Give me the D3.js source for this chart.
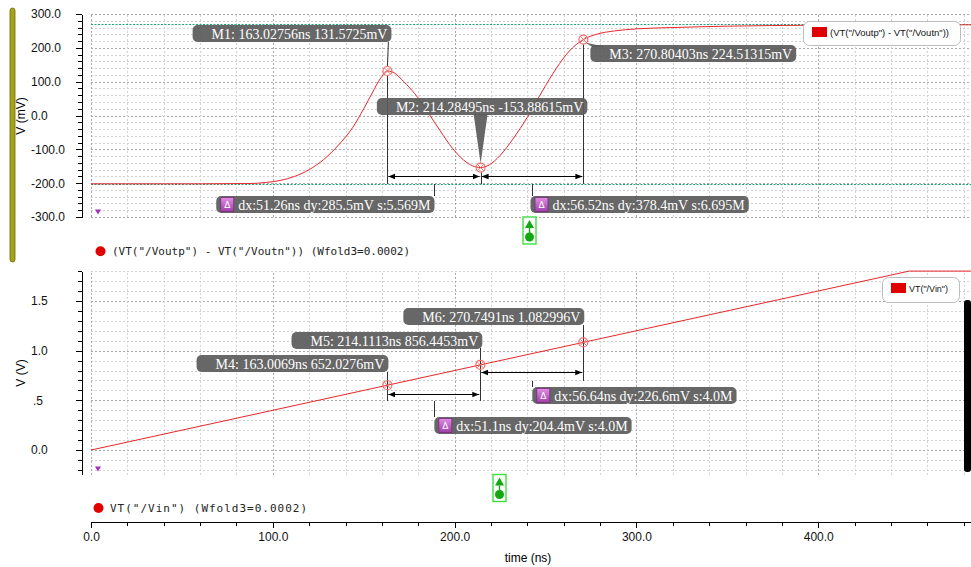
<!DOCTYPE html>
<meta charset="utf-8">
<style>
	body { margin: 0; background: #fff; overflow: hidden; }
	svg { display: block; }
	.axis path, .axis line { stroke: #000; shape-rendering: crispEdges; }
	.axis text { font-family: "Liberation Sans", Arial, sans-serif; font-size: 12px; fill: #111; }
	.mk text { font-family: "Liberation Serif", serif; font-size: 14px; fill: #fff; }
	.mono { font-family: "DejaVu Sans Mono", monospace; font-size: 11px; fill: #222; }
	.lg { font-family: "Liberation Sans", Arial, sans-serif; font-size: 9px; fill: #111; }
</style>
<body>
<svg id="svg"></svg>
<script src="https://cdn.jsdelivr.net/npm/d3@7/dist/d3.min.js"></script>
<script>

// DATA
// top panel : VT("/Voutp") - VT("/Voutn"), time in ns, value in mV
var diffTime = [0, 60, 88, 96, 104, 112, 120, 128, 136, 144, 150, 155, 159, 163.02756, 167, 172, 178, 185, 192, 199, 205, 210, 214.28495, 219, 225, 232, 240, 248, 256, 263, 270.80403, 278, 288, 300, 320, 350, 400, 450, 484]
var diffMv   = [-202, -202, -201, -198, -192, -180, -160, -130, -88, -35, 20, 70, 108, 131.5725, 125, 100, 65, 12, -45, -98, -132, -149, -153.88615, -146, -118, -70, -5, 70, 140, 190, 224.51315, 240, 250, 256, 260, 264, 267, 268, 268]

// bottom panel : VT("/Vin"), time in ns, value in V
var vinTime = [0, 163.0069, 214.1113, 270.7491, 450, 484]
var vinV    = [0, 0.6520276, 0.8564453, 1.082996, 1.8, 1.8]

// horizontal reference lines in top panel (mV)
var refLinesMv = [270, -202]

// ticks
var topTicks = [-300, -200, -100, 0, 100, 200, 300]
var topTickLabels = ['-300.0', '-200.0', '-100.0', '0.0', '100.0', '200.0', '300.0']
var botTicks = [0, 0.5, 1.0, 1.5]
var botTickLabels = ['0.0', '.5', '1.0', '1.5']
var timeTicks = [0, 100, 200, 300, 400]
var timeTickLabels = ['0.0', '100.0', '200.0', '300.0', '400.0']

// markers
var topMarkerT = [163.02756, 214.28495, 270.80403]
var topMarkerV = [131.5725, -153.88615, 224.51315]
var topMarkerText = ['M1: 163.02756ns 131.5725mV', 'M2: 214.28495ns -153.88615mV', 'M3: 270.80403ns 224.51315mV']
var topDeltaText = ['dx:51.26ns dy:285.5mV s:5.569M', 'dx:56.52ns dy:378.4mV s:6.695M']

var botMarkerT = [163.0069, 214.1113, 270.7491]
var botMarkerV = [0.6520276, 0.8564453, 1.082996]
var botMarkerText = ['M4: 163.0069ns 652.0276mV', 'M5: 214.1113ns 856.4453mV', 'M6: 270.7491ns 1.082996V']
var botDeltaText = ['dx:51.1ns dy:204.4mV s:4.0M', 'dx:56.64ns dy:226.6mV s:4.0M']

var topLegend = '(VT("/Voutp") - VT("/Voutn"))'
var botLegend = 'VT("/Vin")'
var topTrace = '(VT("/Voutp") - VT("/Voutn")) (Wfold3=0.0002)'
var botTrace = 'VT("/Vin") (Wfold3=0.0002)'

// CANVAS
var width = 971
var height = 567
var svg = d3.select('#svg').attr('width', width).attr('height', height)

var defs = svg.append('defs')
defs.append('clipPath').attr('id', 'clipTop').append('rect')
	.attr('x', 91).attr('y', 12).attr('width', 880).attr('height', 207)
defs.append('clipPath').attr('id', 'clipBot').append('rect')
	.attr('x', 91).attr('y', 269).attr('width', 880).attr('height', 208)
defs.append('marker').attr('id', 'arr')
	.attr('viewBox', '0 0 10 10').attr('refX', 10).attr('refY', 5)
	.attr('markerWidth', 7).attr('markerHeight', 7).attr('markerUnits', 'userSpaceOnUse')
	.attr('orient', 'auto-start-reverse')
	.append('path').attr('d', 'M0,1L10,5L0,9Z').attr('fill', '#000')
var grad = defs.append('linearGradient').attr('id', 'purp')
	.attr('x1', 0).attr('y1', 0).attr('x2', 0).attr('y2', 1)
grad.append('stop').attr('offset', 0).attr('stop-color', '#e08ee6')
grad.append('stop').attr('offset', 1).attr('stop-color', '#a040a8')

// SCALES
var x = d3.scaleLinear().domain([0, 484]).range([91, 971])
var yTop = d3.scaleLinear().domain([-300, 300]).range([217, 14])
var yBot = d3.scaleLinear().domain([-0.25, 1.8]).range([474.9, 271.1])

var px = v => Math.round(v) + 0.5

// GRID
function grid(y, vals, isMajor) {
	var g = svg.append('g')
	var y0 = y.range()[0], y1 = y.range()[1]
	g.selectAll('.h').data(vals).enter().append('line')
		.attr('x1', 91).attr('x2', 971)
		.attr('y1', d => px(y(d))).attr('y2', d => px(y(d)))
		.attr('stroke', d => isMajor(d) ? '#a8a8a8' : '#d2d2d2')
		.attr('stroke-dasharray', '2,2')
	g.selectAll('.v').data(d3.range(0, 481, 20)).enter().append('line')
		.attr('y1', y0).attr('y2', y1)
		.attr('x1', d => px(x(d))).attr('x2', d => px(x(d)))
		.attr('stroke', d => d % 100 == 0 ? '#a8a8a8' : '#d2d2d2')
		.attr('stroke-dasharray', '2,2')
}
grid(yTop, d3.range(-300, 301, 20), d => d % 100 == 0)
grid(yBot, d3.range(-2, 19).map(d => d / 10), d => Math.round(d * 10) % 5 == 0)

// reference lines
svg.append('g').selectAll('line').data(refLinesMv).enter().append('line')
	.attr('x1', 91).attr('x2', 971)
	.attr('y1', d => px(yTop(d))).attr('y2', d => px(yTop(d)))
	.attr('stroke', '#1aa57a').attr('stroke-dasharray', '2,1.5')

// AXES
function yAxis(y, minor, ticks, labels) {
	svg.append('g').attr('class', 'axis').attr('transform', 'translate(82,0)')
		.call(d3.axisLeft(y).tickValues(minor).tickSize(4).tickSizeOuter(0).tickFormat(''))
	var g = svg.append('g').attr('class', 'axis').attr('transform', 'translate(82,0)')
		.call(d3.axisLeft(y).tickValues(ticks).tickSize(6).tickSizeOuter(0)
			.tickFormat((d, i) => labels[i]))
	g.select('.domain').remove()
	g.selectAll('text').attr('x', (d, i) => labels[i] == '.5' ? -49 : -51)
		.style('text-anchor', 'start')
}
yAxis(yTop, d3.range(-300, 301, 20), topTicks, topTickLabels)
yAxis(yBot, d3.range(-2, 19).map(d => d / 10), botTicks, botTickLabels)

var gx = svg.append('g').attr('class', 'axis').attr('transform', 'translate(0,522)')
gx.call(d3.axisBottom(x).tickValues(d3.range(0, 481, 20)).tickSize(4).tickSizeOuter(0).tickFormat(''))
var gx2 = svg.append('g').attr('class', 'axis').attr('transform', 'translate(0,522)')
	.call(d3.axisBottom(x).tickValues(timeTicks).tickSize(6).tickSizeOuter(0)
		.tickFormat((d, i) => timeTickLabels[i]))
gx2.select('.domain').remove()
gx2.selectAll('text').attr('y', 10)

svg.append('text').attr('x', 528).attr('y', 562)
	.attr('text-anchor', 'middle').style('font-family', '"Liberation Sans", Arial, sans-serif')
	.style('font-size', '12px').text('time (ns)')
svg.append('text').attr('transform', 'translate(25,116) rotate(-90)')
	.attr('text-anchor', 'middle').style('font-family', '"Liberation Sans", Arial, sans-serif')
	.style('font-size', '12px').text('V (mV)')
svg.append('text').attr('transform', 'translate(25,373) rotate(-90)')
	.attr('text-anchor', 'middle').style('font-family', '"Liberation Sans", Arial, sans-serif')
	.style('font-size', '12px').text('V (V)')

// TRACES
var topData = diffTime.map((t, i) => [t, diffMv[i]])
var botData = vinTime.map((t, i) => [t, vinV[i]])

svg.append('path').attr('clip-path', 'url(#clipTop)')
	.datum(topData)
	.attr('d', d3.line().x(d => x(d[0])).y(d => yTop(d[1])).curve(d3.curveMonotoneX))
	.attr('fill', 'none').attr('stroke', '#e8262a').attr('stroke-width', 1)
svg.append('path').attr('clip-path', 'url(#clipBot)')
	.datum(botData)
	.attr('d', d3.line().x(d => x(d[0])).y(d => yBot(d[1])))
	.attr('fill', 'none').attr('stroke', '#e8262a').attr('stroke-width', 1)

// small purple markers at lower-left of each panel
svg.append('path').attr('d', 'M95,209.5L101,209.5L98,214.5Z').attr('fill', '#a030c0')
svg.append('path').attr('d', 'M95,466.5L101,466.5L98,471.5Z').attr('fill', '#a030c0')

// ANNOTATIONS
var boxFill = '#5a5a5a'
var ann = svg.append('g').attr('class', 'mk')

function vline(xp, y1, y2) {
	ann.append('line').attr('x1', px(xp)).attr('x2', px(xp)).attr('y1', y1).attr('y2', y2)
		.attr('stroke', '#333').attr('stroke-width', 1)
}
function arrow(x1, x2, y) {
	ann.append('line').attr('x1', x1 + 1).attr('x2', x2 - 1).attr('y1', px(y)).attr('y2', px(y))
		.attr('stroke', '#000').attr('stroke-width', 1.2)
		.attr('marker-start', 'url(#arr)').attr('marker-end', 'url(#arr)')
}
function ring(xp, yp) {
	ann.append('circle').attr('cx', xp).attr('cy', yp).attr('r', 4.5)
		.attr('fill', 'none').attr('stroke', '#f26a6a').attr('stroke-width', 1.2)
	var d = 3
	ann.append('path')
		.attr('d', `M${xp - d},${yp - d}L${xp + d},${yp + d}M${xp + d},${yp - d}L${xp - d},${yp + d}`)
		.attr('stroke', '#f26a6a').attr('stroke-width', 1)
}
function labelBox(txt, ax, top, align) {
	var r = ann.append('rect')
	var t = ann.append('text').text(txt)
	var w = t.node().getComputedTextLength()
	var bw = w + 23
	var left = align == 'end' ? ax - bw : align == 'start' ? ax : ax - bw / 2
	r.attr('x', left).attr('y', top).attr('width', bw).attr('height', 17).attr('rx', 5)
		.attr('fill', boxFill).attr('fill-opacity', 0.92)
	t.attr('x', left + 19).attr('y', top + 13.5)
}
function deltaBox(txt, ax, top, align) {
	var r = ann.append('rect')
	var ic = ann.append('rect')
	var dl = ann.append('text').text('Δ')
	var t = ann.append('text').text(txt)
	var w = t.node().getComputedTextLength()
	var bw = w + 26
	var left = align == 'end' ? ax - bw : ax
	r.attr('x', left).attr('y', top).attr('width', bw).attr('height', 17).attr('rx', 5)
		.attr('fill', boxFill).attr('fill-opacity', 0.92)
	ic.attr('x', left + 4.5).attr('y', top + 1.5).attr('width', 13).attr('height', 14)
		.attr('fill', 'url(#purp)').attr('stroke', '#7a2a80').attr('stroke-width', 0.8)
	dl.attr('x', left + 11).attr('y', top + 12).attr('text-anchor', 'middle')
		.style('font-family', '"DejaVu Sans", sans-serif').style('font-size', '9px')
	t.attr('x', left + 22).attr('y', top + 13.5)
}

// top panel markers
var tx = topMarkerT.map(d => x(d))
var ty = topMarkerV.map(d => yTop(d))
vline(tx[0], ty[0] + 5, 184)
vline(tx[1], ty[1] + 5, 184)
vline(tx[2], ty[2] + 5, 184)
ann.append('line').attr('x1', tx[0] + 1).attr('y1', 42).attr('x2', tx[0]).attr('y2', ty[0] - 5)
	.attr('stroke', '#333')
ann.append('path')
	.attr('d', `M${tx[1] - 7},114L${tx[1] + 7},114L${tx[1]},${ty[1] - 4}Z`)
	.attr('fill', boxFill).attr('fill-opacity', 0.92)
ann.append('path')
	.attr('d', `M${tx[2] + 2},${ty[2] + 3}L${tx[2] + 9},47L${tx[2] + 22},47Z`)
	.attr('fill', boxFill).attr('fill-opacity', 0.92)
labelBox(topMarkerText[0], tx[0] + 4, 25, 'end')
labelBox(topMarkerText[1], tx[1] + 1.5, 98, 'middle')
labelBox(topMarkerText[2], tx[2] + 7, 45, 'start')
arrow(tx[0], tx[1], 176)
arrow(tx[1], tx[2], 176)
var tm1 = (tx[0] + tx[1]) / 2, tm2 = (tx[1] + tx[2]) / 2
vline(tm1, 184, 196)
vline(tm2, 184, 196)
deltaBox(topDeltaText[0], tm1 + 0.5, 196, 'end')
deltaBox(topDeltaText[1], tm2 - 1.5, 196, 'start')
topMarkerT.forEach((d, i) => ring(tx[i], ty[i]))

// bottom panel markers
var bx = botMarkerT.map(d => x(d))
var by = botMarkerV.map(d => yBot(d))
vline(bx[0], 372, 401)
vline(bx[1], 348, 401)
vline(bx[2], 325, 381)
labelBox(botMarkerText[0], bx[0] + 1, 355, 'end')
labelBox(botMarkerText[1], bx[1] + 2, 332, 'end')
labelBox(botMarkerText[2], bx[2] + 1, 308, 'end')
arrow(bx[0], bx[1], 394)
arrow(bx[1], bx[2], 372)
var bm1 = (bx[0] + bx[1]) / 2, bm2 = (bx[1] + bx[2]) / 2
vline(bm1, 401, 417)
vline(bm2, 381, 387)
deltaBox(botDeltaText[0], bm1 + 0.5, 417, 'start')
deltaBox(botDeltaText[1], bm2 + 0.5, 387, 'start')
botMarkerT.forEach((d, i) => ring(bx[i], by[i]))

// LEGEND BOXES
function legend(x0, y0, w, h, txt, tw) {
	var g = svg.append('g')
	g.append('rect').attr('x', x0 + 0.5).attr('y', y0 + 0.5).attr('width', w).attr('height', h).attr('rx', 6)
		.attr('fill', '#fff').attr('stroke', '#bdbdbd')
	g.append('rect').attr('x', x0 + 9).attr('y', y0 + 6).attr('width', 15).attr('height', 10)
		.attr('fill', '#e00000')
	g.append('text').attr('class', 'lg').attr('x', x0 + 27).attr('y', y0 + 15)
		.attr('textLength', tw).attr('lengthAdjust', 'spacingAndGlyphs').text(txt)
}
legend(803, 21, 157, 24, topLegend, 119)
legend(882, 277, 77, 25, botLegend, 39)

// trace names
svg.append('circle').attr('cx', 100.5).attr('cy', 251.3).attr('r', 5).attr('fill', '#e00000')
svg.append('text').attr('class', 'mono').attr('x', 112).attr('y', 255).text(topTrace)
svg.append('circle').attr('cx', 98.5).attr('cy', 508).attr('r', 5).attr('fill', '#e00000')
svg.append('text').attr('class', 'mono').attr('x', 110).attr('y', 512)
	.attr('textLength', 197).attr('lengthAdjust', 'spacing').text(botTrace)

// green stack icons
function greenIcon(cx, y0) {
	var g = svg.append('g')
	g.append('rect').attr('x', cx - 6.5).attr('y', y0).attr('width', 13).attr('height', 27)
		.attr('fill', '#fff').attr('stroke', '#3ee03e').attr('stroke-width', 1.4)
	g.append('path').attr('d', `M${cx},${y0 + 3}L${cx - 4.5},${y0 + 11}L${cx + 4.5},${y0 + 11}Z`).attr('fill', '#12a812')
	g.append('line').attr('x1', cx).attr('x2', cx).attr('y1', y0 + 11).attr('y2', y0 + 17)
		.attr('stroke', '#12a812').attr('stroke-width', 1.4)
	g.append('circle').attr('cx', cx).attr('cy', y0 + 20).attr('r', 4.5).attr('fill', '#12a812')
}
greenIcon(529.5, 217)
greenIcon(499.5, 474.5)

// olive strip at left, black strip at right
svg.append('rect').attr('x', 10).attr('y', 8).attr('width', 5).attr('height', 254).attr('rx', 2.5)
	.attr('fill', '#a6a21a').attr('stroke', '#6a6800').attr('stroke-width', 0.8)
svg.append('rect').attr('x', 964).attr('y', 300).attr('width', 7).attr('height', 172).attr('rx', 3)
	.attr('fill', '#000')

</script>
</body>
